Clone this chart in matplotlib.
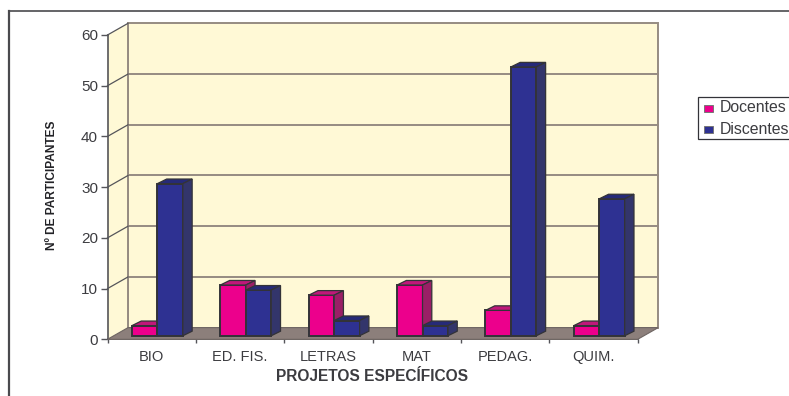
import matplotlib
matplotlib.use("Agg")
import matplotlib.pyplot as plt
from matplotlib.lines import Line2D
from matplotlib.patches import Polygon, Rectangle

plt.rcParams['font.family'] = ['Liberation Sans', 'DejaVu Sans']

categories = ["BIO", "ED. FIS.", "LETRAS", "MAT", "PEDAG.", "QUIM."]
docentes = [2, 10, 8, 10, 5, 2]
discentes = [30, 9, 3, 2, 53, 27]
y_ticks = [0, 10, 20, 30, 40, 50, 60]

W, H = 789, 396
PINK, PINK_TOP, PINK_SIDE = "#EC008C", "#C0187A", "#9A1F66"
BLUE, BLUE_TOP, BLUE_SIDE = "#2E3192", "#262A78", "#33356B"
EDGE = "#333338"
WALL = "#FFF9D6"
GRID = "#968C82"
FLOOR = "#8C7F7B"
TXT = "#3C3C40"

fig = plt.figure(figsize=(W / 100, H / 100), dpi=100, facecolor="white")
ax = fig.add_axes([107.5 / W, 1 - 339.3 / H, 530.2 / W, 304.3 / H])
ax.set_xlim(0, 6)
ax.set_ylim(0, 60)
ax.patch.set_visible(False)
for s in ("top", "right"):
    ax.spines[s].set_visible(False)
for s in ("left", "bottom"):
    ax.spines[s].set_color("#55555A")
    ax.spines[s].set_linewidth(1.2)

DX, DY = 0.232, 2.3     # depth of the box, in axis units
bar_w = 0.288
bx, by = 0.065, 0.7     # bars sit a little inside the floor
bdx, bdy = 0.105, 0.9   # depth of one bar

# back wall, side wall, floor
ax.add_patch(Rectangle((DX, DY), 6, 60, fc=WALL, ec=GRID, lw=1.4, zorder=1, clip_on=False))
ax.add_patch(Polygon([(0, 0), (DX, DY), (DX, 60 + DY), (0, 60)], fc=WALL, ec="none", zorder=1, clip_on=False))
ax.plot([DX, DX], [DY, 60 + DY], color=GRID, lw=1.4, zorder=2, clip_on=False)
for v in y_ticks[1:-1]:
    ax.plot([DX, 6 + DX], [v + DY, v + DY], color=GRID, lw=1.4, zorder=2, clip_on=False)
for v in y_ticks[1:]:
    ax.plot([0, DX], [v, v + DY], color="#55555A", lw=0.9, zorder=2, clip_on=False)
ax.add_patch(Polygon([(0, 0), (6, 0), (6 + DX, DY), (DX, DY)], fc=FLOOR, ec="#6E6562", lw=0.8, zorder=3, clip_on=False))


def bar3d(x0, value, front, top, side, z):
    y1 = by + value
    ax.bar(x0, value, bar_w, bottom=by, align="edge", color=front, edgecolor=EDGE, linewidth=1.4, zorder=z)
    x1 = x0 + bar_w
    ax.add_patch(Polygon([(x0, y1), (x0 + bdx, y1 + bdy), (x1 + bdx, y1 + bdy), (x1, y1)],
                         fc=top, ec=EDGE, lw=0.9, zorder=z, clip_on=False))
    ax.add_patch(Polygon([(x1, by), (x1 + bdx, by + bdy), (x1 + bdx, y1 + bdy), (x1, y1)],
                         fc=side, ec=EDGE, lw=0.9, zorder=z, clip_on=False))


for i, (d, e) in enumerate(zip(docentes, discentes)):
    centre = i + 0.5 + bx
    bar3d(centre - bar_w, d, PINK, PINK_TOP, PINK_SIDE, 4 + i)
    bar3d(centre, e, BLUE, BLUE_TOP, BLUE_SIDE, 4.5 + i)

ax.set_yticks(y_ticks)
ax.set_xticks(range(7))
ax.set_xticklabels([])
ax.set_xticks([i + 0.5 for i in range(6)], minor=True)
ax.set_xticklabels(categories, minor=True, fontsize=10.5, color=TXT)
ax.tick_params(axis="x", which="minor", length=0, pad=7.5)
ax.tick_params(axis="x", which="major", length=3, width=1, color="#55555A")
ax.tick_params(axis="y", length=4.8, width=1, color="#55555A", labelsize=11, labelcolor=TXT, pad=2)

fig.text(372.5 / W, 1 - 376.5 / H, "PROJETOS ESPECÍFICOS", fontsize=11.2, fontweight="bold",
         color=TXT, ha="center", va="center")
fig.text(52 / W, 1 - 185 / H, "Nº DE PARTICIPANTES", fontsize=8.6, fontweight="bold",
         color="#222226", rotation=90, ha="center", va="center")

# outer frame and legend run off the canvas
fr = "#4A4A4E"
fig.add_artist(Line2D([9 / W, 9 / W], [0, 1 - 10.5 / H], color=fr, lw=1.6))
fig.add_artist(Line2D([9 / W, 1], [1 - 10.5 / H, 1 - 10.5 / H], color=fr, lw=1.2))
fig.add_artist(Rectangle((697.5 / W, 1 - 139 / H), 120 / W, 42 / H, fc="white", ec="#333338", lw=0.9,
                         transform=fig.transFigure, zorder=5))
for label, col, yc in (("Docentes", PINK, 108), ("Discentes", BLUE, 129)):
    fig.add_artist(Rectangle((703.5 / W, 1 - (yc + 3.5) / H), 9 / W, 7 / H, fc=col, ec="#777777", lw=0.7,
                             transform=fig.transFigure, zorder=6))
    fig.text(720 / W, 1 - yc / H, label, fontsize=11.4, color=TXT, va="center", ha="left", zorder=6)

fig.savefig("out.png", dpi=100)
